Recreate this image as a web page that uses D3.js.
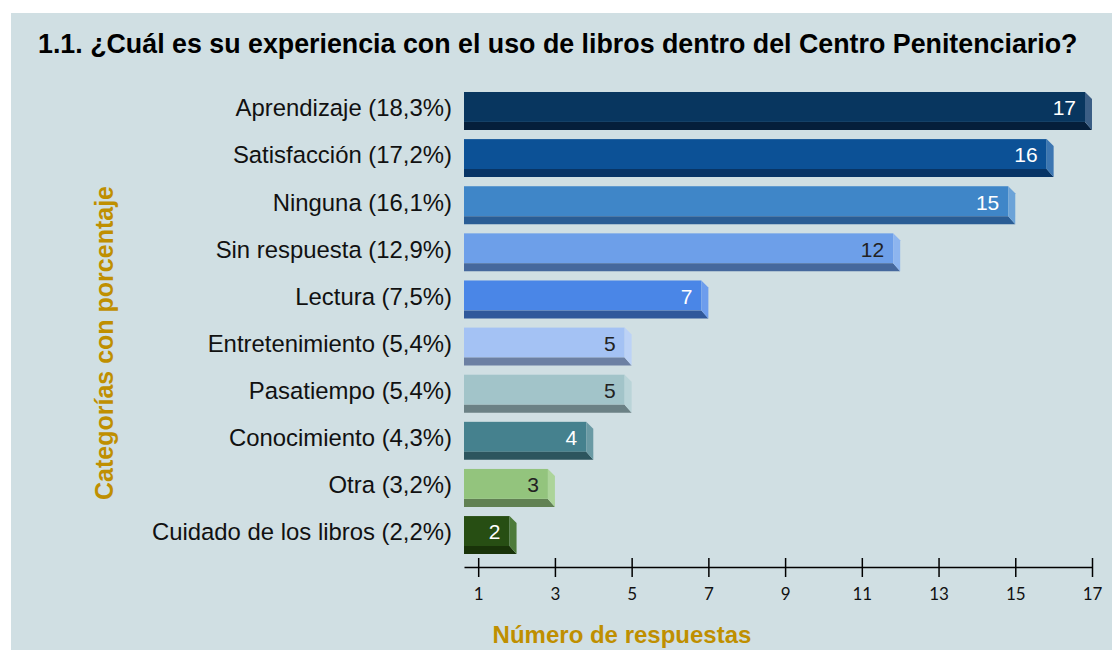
<!DOCTYPE html>
<html><head><meta charset="utf-8">
<script src="https://cdn.jsdelivr.net/npm/d3@7"></script>
<style>html,body{margin:0;padding:0;background:#fff;}svg{display:block;}</style>
</head><body>
<script>
const categories = ["Aprendizaje (18,3%)","Satisfacción (17,2%)","Ninguna (16,1%)","Sin respuesta (12,9%)","Lectura (7,5%)","Entretenimiento (5,4%)","Pasatiempo (5,4%)","Conocimiento (4,3%)","Otra (3,2%)","Cuidado de los libros (2,2%)"];
const values = [17,16,15,12,7,5,5,4,3,2];
const frontColors = ["#08365f","#0c5196","#3f86c8","#6d9fe9","#4a86e7","#a4c2f4","#a2c4c9","#45818e","#93c47d","#274e13"];
const sideColors  = ["#3b5e85","#3c76b2","#6ca3d8","#8db5ef","#6d9ded","#bcd2f6","#bad4d8","#6a9aa4","#acd49a","#4d7a3a"];
const bottomColors= ["#051f3b","#083566","#2a5d95","#45689d","#2f589b","#6c80a3","#6b8185","#2c555e","#618153","#193309"];
const labelColors = ["#fff","#fff","#fff","#222","#fff","#222","#222","#fff","#222","#fff"];
const ticks = [1,3,5,7,9,11,13,15,17];

const W = 1112, H = 650;
const svg = d3.select("body").append("svg").attr("width", W).attr("height", H);
svg.append("rect").attr("x",11).attr("y",13).attr("width",W-11).attr("height",H-13).attr("fill","#d0dfe3");

svg.append("text").attr("x",38).attr("y",53)
  .attr("font-family","Liberation Sans, Arial, sans-serif").attr("font-weight","bold").attr("font-size",26.8)
  .attr("fill","#000")
  .text("1.1. ¿Cuál es su experiencia con el uso de libros dentro del Centro Penitenciario?");

const x = d3.scaleLinear().domain([0.63,17]).range([464,1092]);
const y = d3.scaleBand().domain(categories).range([92,554]).paddingInner(0.195).paddingOuter(0);
const depth = 7, bottomH = 8;

const g = svg.append("g");
const bars = g.selectAll("g.bar").data(values).join("g").attr("class","bar");
bars.each(function(v,i){
  const s = d3.select(this);
  const top = y(categories[i]), h = y.bandwidth();
  const x0 = x.range()[0], xe = x(v), xf = xe - depth;
  const fb = top + h - bottomH;
  s.append("rect").attr("x",x0).attr("y",top).attr("width",xf-x0).attr("height",fb-top).attr("fill",frontColors[i]);
  s.append("path").attr("d",`M${x0},${fb}L${xf},${fb}L${xe},${top+h}L${x0},${top+h}Z`).attr("fill",bottomColors[i]);
  s.append("path").attr("d",`M${xf},${top}L${xe},${top+depth}L${xe},${top+h}L${xf},${fb}Z`).attr("fill",sideColors[i]);
  s.append("text").attr("x",xf-9).attr("y",top+16).attr("dy","0.35em").attr("text-anchor","end")
    .attr("font-family","Liberation Sans, Arial, sans-serif").attr("font-size",21).attr("fill",labelColors[i]).text(v);
});

g.selectAll("text.cat").data(categories).join("text").attr("class","cat")
  .attr("x",452).attr("y",d=>y(d)+16).attr("dy","0.35em").attr("text-anchor","end")
  .attr("font-family","Liberation Sans, Arial, sans-serif").attr("font-size",23.9).attr("fill","#111").text(d=>d);

const axis = d3.axisBottom(x).tickValues(ticks).tickSizeInner(10).tickSizeOuter(0).tickPadding(12);
const ax = svg.append("g").attr("transform","translate(0,567)").call(axis);
ax.select(".domain").attr("stroke","#000").attr("stroke-width",1.5);
ax.selectAll(".tick line").attr("y1",-9).attr("y2",10).attr("stroke","#000").attr("stroke-width",1.5);
ax.selectAll(".tick text").attr("font-family","Lato, Carlito, sans-serif").attr("font-size",17).attr("fill","#111").attr("y",21);

svg.append("text").attr("x",622).attr("y",643).attr("text-anchor","middle")
  .attr("font-family","Liberation Sans, Arial, sans-serif").attr("font-weight","bold").attr("font-size",24)
  .attr("fill","#bf8f00").text("Número de respuestas");
svg.append("text").attr("transform","translate(113,343) rotate(-90)").attr("text-anchor","middle")
  .attr("font-family","Liberation Sans, Arial, sans-serif").attr("font-weight","bold").attr("font-size",25)
  .attr("fill","#bf8f00").text("Categorías con porcentaje");
</script>
</body></html>
